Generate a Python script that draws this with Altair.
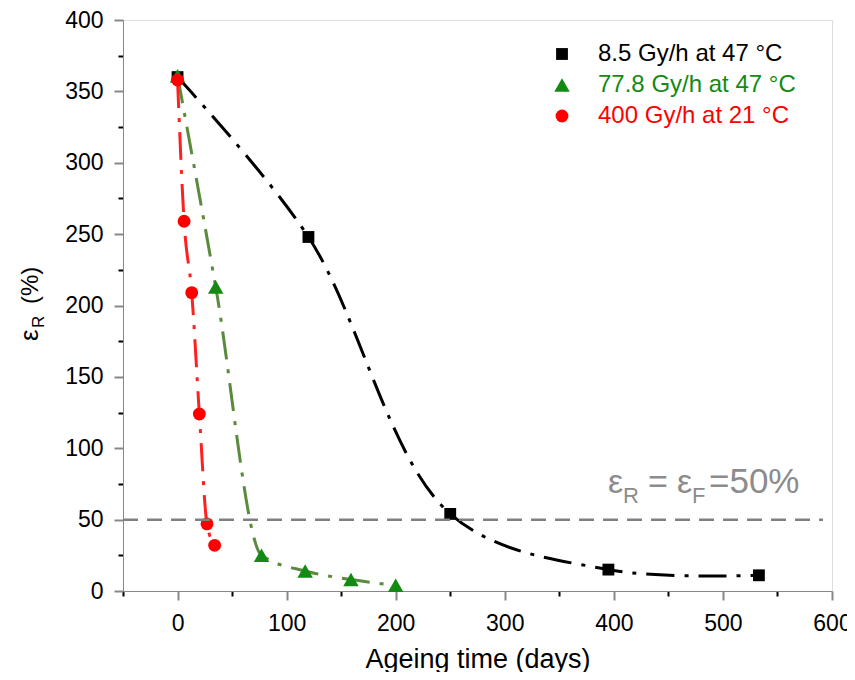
import altair as alt
import pandas as pd

# ---- data ----
series_names = ["8.5 Gy/h at 47 °C", "77.8 Gy/h at 47 °C", "400 Gy/h at 21 °C"]
days_85 = [0, 120, 250, 395, 533]
eps_85 = [360, 248, 54, 15, 11]
days_778 = [0, 35, 77, 117, 159, 200]
eps_778 = [361, 213, 25, 14, 8, 4]
days_400 = [0, 6, 13, 20, 27, 34]
eps_400 = [358, 259, 209, 124, 47, 32]
threshold = [50]

x_major = [0, 100, 200, 300, 400, 500, 600]
x_minor = [-50, 50, 150, 250, 350, 450, 550]
y_major = [0, 50, 100, 150, 200, 250, 300, 350, 400]
y_minor = [25, 75, 125, 175, 225, 275, 325, 375]

marker_colors = ["#000000", "#138a13", "#ff0000"]
line_colors = ["#000000", "#5b8a3c", "#ff2020"]
shapes = ["square", "triangle-up", "circle"]
marker_sizes = [140, 240, 165]
interps = ["catmull-rom", "monotone", "monotone"]

rows = []
for name, xs, ys in zip(series_names, [days_85, days_778, days_400], [eps_85, eps_778, eps_400]):
    for xv, yv in zip(xs, ys):
        rows.append({"series": name, "days": xv, "eps": yv})
df = pd.DataFrame(rows)

FONT = "Liberation Sans"
xscale = alt.Scale(domain=[-50, 600], nice=False, zero=False)
yscale = alt.Scale(domain=[0, 400], nice=False)

legend_color_expr = ("datum.label == '%s' ? '%s' : (datum.label == '%s' ? '%s' : '%s')"
                     % (series_names[0], marker_colors[0], series_names[1], marker_colors[1],
                        marker_colors[2]))
leg = alt.Legend(title=None, orient="none", legendX=427, legendY=22, padding=0,
                 labelFont=FONT, labelFontSize=24, labelColor={"expr": legend_color_expr},
                 labelLimit=0, symbolStrokeWidth=0, labelOffset=24,
                 rowPadding=7, symbolType="square")

base = alt.Chart(df)

lines = []
for i, name in enumerate(series_names):
    if i == 0:
        xax = alt.Axis(values=x_minor, tickSize=5, tickWidth=2, labels=False, domain=False,
                       title=None, orient="bottom", grid=False, tickColor="black")
        yax = alt.Axis(values=y_minor, tickSize=5, tickWidth=2, labels=False, domain=False,
                       title=None, orient="left", grid=False, tickColor="black")
    else:
        xax = None
        yax = None
    ln = base.transform_filter(alt.datum.series == name).mark_line(
        color=line_colors[i], strokeWidth=3, strokeDash=[28, 10, 4, 10],
        interpolate=interps[i]).encode(
        x=alt.X("days:Q", scale=xscale, axis=xax),
        y=alt.Y("eps:Q", scale=yscale, axis=yax),
    )
    lines.append(ln)

points = base.mark_point(filled=True, opacity=1, strokeWidth=0).encode(
    x=alt.X("days:Q", scale=xscale,
            axis=alt.Axis(values=x_major, title="Ageing time (days)", orient="bottom",
                          tickSize=9, tickWidth=2, labelFontSize=23, labelPadding=12,
                          titleFontSize=27, titlePadding=11, titleFont=FONT, labelFont=FONT,
                          grid=False, titleFontWeight="normal", labelFlush=False)),
    y=alt.Y("eps:Q", scale=yscale,
            axis=alt.Axis(values=y_major, title=None, orient="left", tickSize=9, tickWidth=2,
                          labelFontSize=23, labelPadding=11, labelFont=FONT, grid=False,
                          labelFlush=False)),
    color=alt.Color("series:N", scale=alt.Scale(domain=series_names, range=marker_colors), legend=leg),
    shape=alt.Shape("series:N", scale=alt.Scale(domain=series_names, range=shapes), legend=leg),
    size=alt.Size("series:N", scale=alt.Scale(type="ordinal", domain=series_names, range=marker_sizes),
                  legend=leg),
)

rule = alt.Chart(pd.DataFrame({"y": threshold})).mark_rule(
    color="#808080", strokeWidth=2.5, strokeDash=[15, 9]).encode(
    y=alt.Y("y:Q", scale=yscale, axis=None),
    x=alt.value(0), x2=alt.value(700),
)

one = alt.Data(values=[{}])
GRAY = "#8c8c8c"

def txt(s, x, y, size, color, angle=0, align="left"):
    kw = dict(text=s, font=FONT, fontSize=size, color=color, align=align, baseline="alphabetic")
    if angle:
        kw["angle"] = angle
    return alt.Chart(one).mark_text(**kw).encode(x=alt.value(x), y=alt.value(y))

annot = [
    txt("ε", 485, 473, 34, GRAY),
    txt("R", 500, 483, 22, GRAY),
    txt("=", 525, 473, 34, GRAY),
    txt("ε", 554, 473, 34, GRAY),
    txt("F", 569, 483, 22, GRAY),
    txt("=50%", 586, 473, 35, GRAY),
]
ytitle = [
    txt("ε", -85, 321, 26, "black", angle=270),
    txt("R", -79, 308, 17, "black", angle=270),
    txt("(%)", -85, 284, 24, "black", angle=270),
]

chart = alt.layer(*lines, points, rule, *annot, *ytitle).resolve_axis(
    x="independent", y="independent"
).properties(
    width=709, height=571,
    autosize=alt.AutoSizeParams(type="none"),
    padding={"left": 115, "top": 12, "right": 15, "bottom": 81},
).configure_view(
    stroke="black", strokeWidth=2
).configure_axis(
    domainColor="black", domainWidth=2, tickColor="black", labelColor="black",
    titleColor="black"
).configure(font=FONT)

chart.save("out.html", embed_options={"renderer": "svg", "actions": False})
